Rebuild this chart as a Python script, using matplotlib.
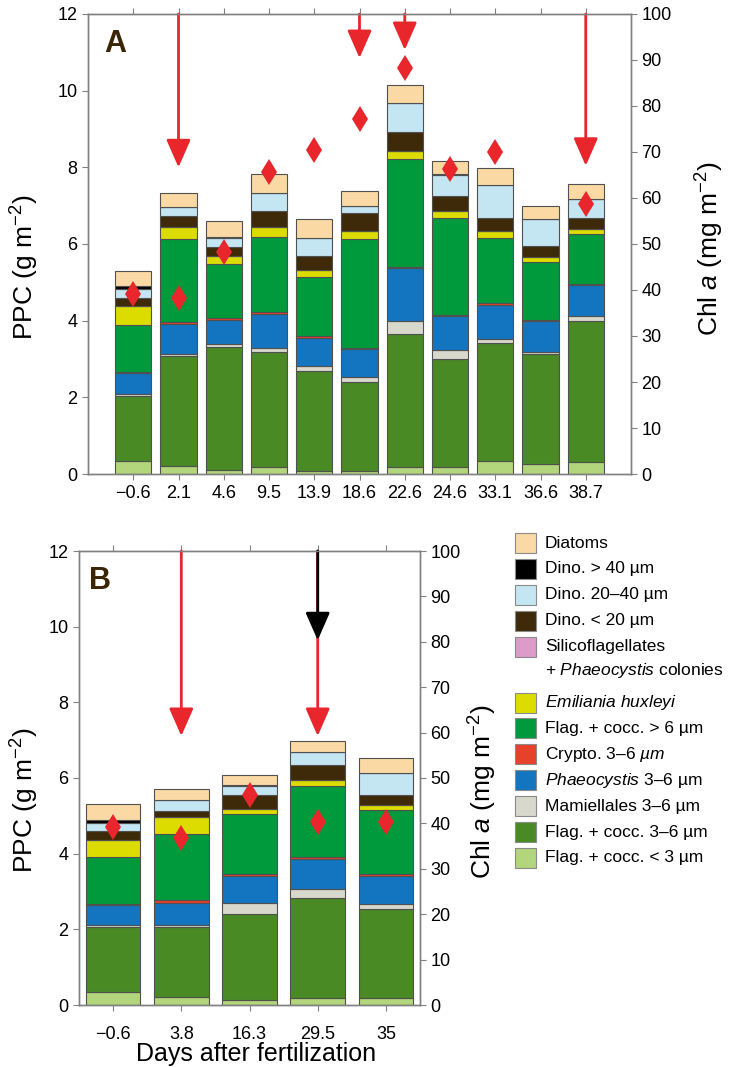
import matplotlib
matplotlib.use("Agg")
import matplotlib.pyplot as plt
import matplotlib.patches as mpatches
import numpy as np

plt.rcParams['font.family'] = ['Liberation Sans', 'DejaVu Sans']
plt.rcParams['mathtext.fontset'] = 'custom'
plt.rcParams['mathtext.rm'] = 'Liberation Sans'
plt.rcParams['mathtext.it'] = 'Liberation Sans:italic'
plt.rcParams['mathtext.bf'] = 'Liberation Sans:bold'

# groups, bottom to top of each stack
groups = ["Flag. + cocc. < 3 µm", "Flag. + cocc. 3–6 µm", "Mamiellales 3–6 µm",
          "Phaeocystis 3–6 µm", "Crypto. 3–6 µm", "Flag. + cocc. > 6 µm",
          "Emiliania huxleyi", "Silicoflagellates + Phaeocystis colonies",
          "Dino. < 20 µm", "Dino. 20–40 µm", "Dino. > 40 µm", "Diatoms"]
colors = ["#b3d57b", "#4a8a25", "#d9d8cc", "#1375c0", "#e8412a", "#009a3c",
          "#dcdc00", "#dc9bc8", "#3e2a08", "#c4e6f3", "#000000", "#fad9a5"]

# panel A
days_a = ["−0.6", "2.1", "4.6", "9.5", "13.9", "18.6", "22.6", "24.6", "33.1", "36.6", "38.7"]
flag_lt3_a = [0.34, 0.22, 0.10, 0.17, 0.08, 0.09, 0.17, 0.17, 0.35, 0.26, 0.32]
flag_36_a  = [1.70, 2.85, 3.21, 3.00, 2.61, 2.32, 3.47, 2.83, 3.08, 2.86, 3.67]
mamiel_a   = [0.06, 0.06, 0.07, 0.13, 0.14, 0.11, 0.35, 0.24, 0.09, 0.07, 0.14]
phaeo_a    = [0.54, 0.78, 0.65, 0.87, 0.73, 0.74, 1.38, 0.87, 0.89, 0.79, 0.79]
crypto_a   = [0.03, 0.05, 0.03, 0.06, 0.04, 0.04, 0.04, 0.04, 0.04, 0.04, 0.04]
flag_gt6_a = [1.22, 2.17, 1.41, 1.94, 1.55, 2.82, 2.80, 2.52, 1.70, 1.50, 1.29]
emil_a     = [0.48, 0.32, 0.22, 0.28, 0.17, 0.22, 0.22, 0.20, 0.19, 0.15, 0.13]
silico_a   = [0, 0, 0, 0, 0, 0, 0, 0, 0, 0, 0]
dino_lt20_a = [0.23, 0.28, 0.24, 0.41, 0.37, 0.48, 0.48, 0.38, 0.33, 0.28, 0.29]
dino_2040_a = [0.22, 0.24, 0.22, 0.46, 0.46, 0.17, 0.76, 0.55, 0.87, 0.70, 0.50]
dino_gt40_a = [0.08, 0.00, 0.03, 0.00, 0.00, 0.00, 0.00, 0.02, 0.00, 0.00, 0.00]
diatoms_a  = [0.40, 0.37, 0.43, 0.50, 0.49, 0.40, 0.48, 0.35, 0.43, 0.35, 0.39]
chl_a = [39.1, 38.3, 48.3, 65.6, 70.4, 77.2, 88.2, 66.3, 70.1, np.nan, 58.6]
# fertilization arrows: bar index, tip (PPC units)
arrow_idx_a = [1, 5, 6, 10]
arrow_tip_a = [8.0, 10.85, 11.06, 8.04]

# panel B
days_b = ["−0.6", "3.8", "16.3", "29.5", "35"]
flag_lt3_b = [0.35, 0.22, 0.13, 0.19, 0.19]
flag_36_b  = [1.70, 1.83, 2.27, 2.65, 2.35]
mamiel_b   = [0.06, 0.06, 0.30, 0.22, 0.12]
phaeo_b    = [0.53, 0.59, 0.72, 0.79, 0.74]
crypto_b   = [0.04, 0.07, 0.04, 0.05, 0.05]
flag_gt6_b = [1.22, 1.74, 1.58, 1.88, 1.70]
emil_b     = [0.46, 0.45, 0.15, 0.16, 0.13]
silico_b   = [0, 0, 0, 0, 0]
dino_lt20_b = [0.24, 0.17, 0.37, 0.40, 0.27]
dino_2040_b = [0.22, 0.30, 0.22, 0.34, 0.57]
dino_gt40_b = [0.07, 0.00, 0.03, 0.00, 0.00]
diatoms_b  = [0.42, 0.27, 0.26, 0.29, 0.42]
chl_b = [39.2, 36.7, 46.2, 40.3, 40.3]
arrow_idx_b = [1, 3]
arrow_tip_b = [7.11, 7.11]
black_idx_b = [3]
black_tip_b = [9.64]

stack_a = [flag_lt3_a, flag_36_a, mamiel_a, phaeo_a, crypto_a, flag_gt6_a, emil_a,
           silico_a, dino_lt20_a, dino_2040_a, dino_gt40_a, diatoms_a]
stack_b = [flag_lt3_b, flag_36_b, mamiel_b, phaeo_b, crypto_b, flag_gt6_b, emil_b,
           silico_b, dino_lt20_b, dino_2040_b, dino_gt40_b, diatoms_b]

red = "#e8262c"
spine_col = "#808080"
letter_col = "#3b2506"
arrow_style = "-|>,head_length=1.55,head_width=0.68"

fig = plt.figure(figsize=(7.42, 10.67), dpi=100)
ax_a = fig.add_axes([88/742, 1-474/1067, 543/742, 460/1067])
ax_b = fig.add_axes([79/742, 1-1005/1067, 341/742, 454/1067])


def draw_panel(ax, labels, stack, chl, arr_idx, arr_tip, xpad, letter):
    x = np.arange(len(labels))
    bottom = np.zeros(len(labels))
    for vals, c in zip(stack, colors):
        vals = np.array(vals, dtype=float)
        ax.bar(x, vals, 0.8, bottom=bottom, color=c, edgecolor="#505050",
               linewidth=0.8, zorder=2)
        bottom += vals
    ax.set_ylim(0, 12)
    ax.set_yticks(range(0, 13, 2))
    ax.set_xticks(x)
    ax.set_xticklabels(labels)
    if len(labels) < 6:
        ax.set_xlim(-0.5, len(labels) - 0.5)
    else:
        ax.set_xlim(-1, len(labels))
    ax.tick_params(axis="both", direction="out", length=4, width=0.8,
                   color=spine_col, labelsize=13)
    ax.tick_params(axis="x", top=True, pad=xpad)
    for s in ax.spines.values():
        s.set_color(spine_col)
        s.set_linewidth(1.0)
    for i, t in zip(arr_idx, arr_tip):
        ax.annotate("", xy=(i, t), xytext=(i, 12), annotation_clip=False,
                    arrowprops=dict(arrowstyle=arrow_style,
                                    mutation_scale=11, color=red, lw=2,
                                    shrinkA=0, shrinkB=0), zorder=5)
    ax.set_ylabel("PPC (g m$^{-2}$)", fontsize=19, va="center")
    ax.text(0.03, 0.935, letter, transform=ax.transAxes, fontsize=22,
            fontweight="bold", color=letter_col, va="center", ha="left")

    ax2 = ax.twinx()
    ax2.set_ylim(0, 100)
    ax2.set_yticks(range(0, 101, 10))
    ax2.tick_params(axis="y", direction="out", length=4, width=0.8,
                    color=spine_col, labelsize=13)
    for s in ax2.spines.values():
        s.set_color(spine_col)
        s.set_linewidth(1.0)
    ax2.plot(x, chl, linestyle="none", marker="d", markersize=13, color=red,
             markeredgewidth=0, zorder=4)
    ax2.set_ylabel("Chl $\\it{a}$ (mg m$^{-2}$)", fontsize=19, va="center")
    return ax2


ax2_a = draw_panel(ax_a, days_a, stack_a, chl_a, arrow_idx_a, arrow_tip_a, 4, "A")
ax2_b = draw_panel(ax_b, days_b, stack_b, chl_b, arrow_idx_b, arrow_tip_b, 11, "B")

# black arrow on top of the red one in panel B
for i, t in zip(black_idx_b, black_tip_b):
    ax_b.annotate("", xy=(i, t), xytext=(i, 12), annotation_clip=False,
                  arrowprops=dict(arrowstyle=arrow_style,
                                  mutation_scale=11, color="black", lw=2,
                                  shrinkA=0, shrinkB=0), zorder=6)

ax_a.yaxis.set_label_coords(-0.116, 0.45)
ax_b.yaxis.set_label_coords(-0.158, 0.45)
ax2_a.yaxis.set_label_coords(1.145, 0.49)
ax2_b.yaxis.set_label_coords(1.185, 0.47)
ax_b.set_xlabel("Days after fertilization", fontsize=18, va="center")
ax_b.xaxis.set_label_coords(0.52, -0.108)

# legend
leg_labels = ["Diatoms", "Dino. > 40 µm", "Dino. 20–40 µm", "Dino. < 20 µm",
              "Silicoflagellates", "$\\it{Emiliania}$ $\\it{huxleyi}$",
              "Flag. + cocc. > 6 µm", "Crypto. 3–6 $\\it{µm}$",
              "$\\it{Phaeocystis}$ 3–6 µm", "Mamiellales 3–6 µm",
              "Flag. + cocc. 3–6 µm", "Flag. + cocc. < 3 µm"]
leg_colors = colors[::-1]
y = 543
for k, (lab, c) in enumerate(zip(leg_labels, leg_colors)):
    fig.patches.append(mpatches.Rectangle((515/742, 1-(y+10)/1067), 21/742, 20/1067,
                                          transform=fig.transFigure, facecolor=c,
                                          edgecolor="#8a8a8a", linewidth=0.8))
    fig.text(545/742, 1-y/1067, lab, fontsize=12.5, va="center", ha="left")
    if k == 4:
        fig.text(545/742, 1-(y+24)/1067, "+ $\\it{Phaeocystis}$ colonies",
                 fontsize=12.5, va="center", ha="left")
        y += 56
    else:
        y += 25.9

fig.savefig("out.png", dpi=100)
